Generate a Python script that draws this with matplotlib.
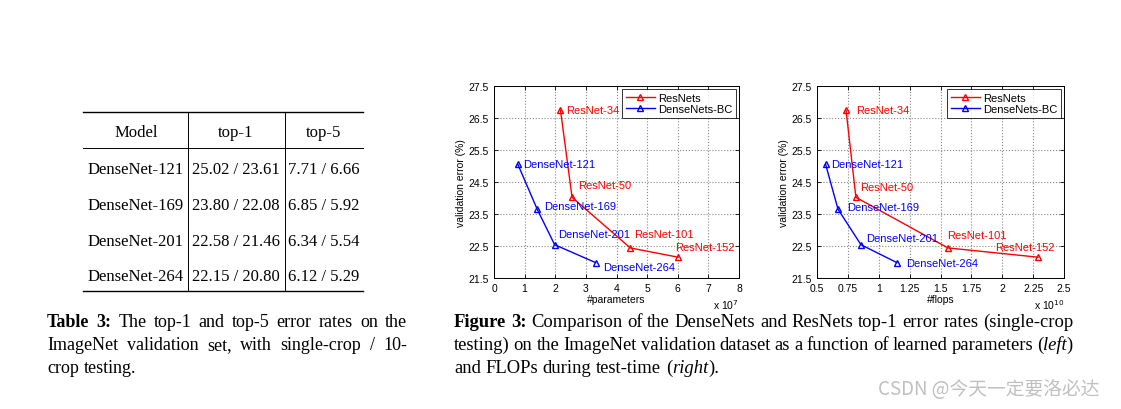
import matplotlib
matplotlib.use("Agg")
import matplotlib.pyplot as plt

# table 3 data
table_cols = ["Model", "top-1", "top-5"]
table_models = ["DenseNet-121", "DenseNet-169", "DenseNet-201", "DenseNet-264"]
table_top1 = ["25.02 / 23.61", "23.80 / 22.08", "22.58 / 21.46", "22.15 / 20.80"]
table_top5 = ["7.71 / 6.66", "6.85 / 5.92", "6.34 / 5.54", "6.12 / 5.29"]

# figure 3 data
resnet_names = ["ResNet-34", "ResNet-50", "ResNet-101", "ResNet-152"]
resnet_params = [2.17, 2.55, 4.45, 6.01]      # x 1e7
resnet_flops = [0.735, 0.815, 1.56, 2.29]     # x 1e10
resnet_err = [26.75, 24.02, 22.44, 22.15]

dense_names = ["DenseNet-121", "DenseNet-169", "DenseNet-201", "DenseNet-264"]
dense_params = [0.78, 1.41, 1.98, 3.32]
dense_flops = [0.57, 0.67, 0.856, 1.147]
dense_err = [25.05, 23.65, 22.54, 21.98]

W, H = 1121, 410
fig = plt.figure(figsize=(W / 100, H / 100), dpi=100)

serif = "Liberation Serif"
sans = "Liberation Sans"

def fx(px):
    return px / W

def fy(py):
    return 1 - py / H

# ---------------- table ----------------
tl, tr = 83, 363
for y, lw in [(113, 1.0), (149, 0.7), (292, 1.0)]:
    fig.add_artist(plt.Line2D([fx(tl), fx(tr)], [fy(y), fy(y)], color="black", lw=lw))
for x in [188, 285]:
    fig.add_artist(plt.Line2D([fx(x), fx(x)], [fy(113), fy(292)], color="black", lw=0.7))

col_centers = [136, 236, 324]
for c, name in zip(col_centers, table_cols):
    fig.text(fx(c), fy(133), name, ha="center", va="center", family=serif, fontsize=12)
row_y = [170, 206, 242, 277]
for i in range(len(table_models)):
    fig.text(fx(184), fy(row_y[i]), table_models[i], ha="right", va="center", family=serif, fontsize=12)
    fig.text(fx(192), fy(row_y[i]), table_top1[i], ha="left", va="center", family=serif, fontsize=12)
    fig.text(fx(288), fy(row_y[i]), table_top5[i], ha="left", va="center", family=serif, fontsize=12)

# ---------------- plots ----------------
def draw_panel(rect, rx, dx, xlim, xticks, xticklabels, xlabel, expo, res_off, den_off):
    ax = fig.add_axes(rect)
    ax.plot(rx, resnet_err, "-^", color="red", mfc="none", ms=5, lw=1, label="ResNets")
    ax.plot(dx, dense_err, "-^", color="blue", mfc="none", ms=5, lw=1, label="DenseNets-BC")
    for n, x, y, o in zip(resnet_names, rx, resnet_err, res_off):
        ax.annotate(n, (x, y), xytext=o, textcoords="offset pixels", color="red",
                    fontsize=8, family=sans, va="center", ha="left")
    for n, x, y, o in zip(dense_names, dx, dense_err, den_off):
        ax.annotate(n, (x, y), xytext=o, textcoords="offset pixels", color="blue",
                    fontsize=8, family=sans, va="center", ha="left")
    ax.set_xlim(xlim)
    ax.set_ylim(21.5, 27.5)
    ax.set_xticks(xticks)
    ax.set_xticklabels(xticklabels)
    ax.set_yticks([21.5, 22.5, 23.5, 24.5, 25.5, 26.5, 27.5])
    ax.set_yticklabels(["21.5", "22.5", "23.5", "24.5", "25.5", "26.5", "27.5"])
    ax.grid(True, linestyle=":", color="#888888", lw=0.8)
    ax.tick_params(direction="in", top=True, right=True, labelsize=7.5, length=3, width=0.6)
    for lab in ax.get_xticklabels() + ax.get_yticklabels():
        lab.set_family(sans)
    for s in ax.spines.values():
        s.set_linewidth(0.7)
    ax.set_xlabel(xlabel, fontsize=7.5, family=sans, labelpad=1)
    ax.set_ylabel("validation error (%)", fontsize=7.5, family=sans, labelpad=2)
    ax.text(1.0, -0.135, "x 10$^{%d}$" % expo, transform=ax.transAxes, fontsize=7.5,
            family=sans, ha="right", va="center")
    leg = ax.legend(loc="upper right", frameon=True, fancybox=False,
                    borderpad=0.3, handlelength=2.6, handletextpad=0.3, labelspacing=0.15,
                    borderaxespad=0.3, prop={"family": sans, "size": 8})
    leg.get_frame().set_edgecolor("black")
    leg.get_frame().set_linewidth(0.7)
    return ax

draw_panel([fx(494), fy(279), fx(739) - fx(494), fy(87) - fy(279)],
           resnet_params, dense_params, (0, 8), range(0, 9), [str(i) for i in range(9)],
           "#parameters", 7,
           [(6, 0), (6, 12), (4, 14), (-3, 10)],
           [(5, 0), (7, 3), (3, 11), (7, -4)])

fl_ticks = [0.5, 0.75, 1, 1.25, 1.5, 1.75, 2, 2.25, 2.5]
draw_panel([fx(817), fy(279), fx(1064) - fx(817), fy(87) - fy(279)],
           resnet_flops, dense_flops, (0.5, 2.5), fl_ticks,
           ["0.5", "0.75", "1", "1.25", "1.5", "1.75", "2", "2.25", "2.5"],
           "#flops", 10,
           [(10, 0), (4, 10), (-1, 13), (-43, 10)],
           [(5, 0), (9, 2), (5, 7), (9, 0)])

# ---------------- captions ----------------
fig.canvas.draw()
renderer = fig.canvas.get_renderer()

def caption_line(x, y, parts, size, x_end=None):
    # parts: (text, weight, style); words split on spaces, joined fragments stay together
    words = [[]]
    for txt, weight, style in parts:
        pieces = txt.split(" ")
        for k, p in enumerate(pieces):
            if k > 0:
                words.append([])
            if p:
                words[-1].append((p, weight, style))
    words = [w for w in words if w]
    made = []
    total = 0
    for w in words:
        frags = []
        for p, weight, style in w:
            t = fig.text(0, fy(y), p, family=serif, fontsize=size, weight=weight,
                         style=style, ha="left", va="baseline")
            wd = t.get_window_extent(renderer).width
            frags.append((t, wd))
            total += wd
        made.append(frags)
    if x_end is None:
        gap = size * 0.25 * 100 / 72
    else:
        gap = (x_end - x - total) / (len(made) - 1)
    for frags in made:
        for t, wd in frags:
            t.set_x(x / W)
            x += wd
        x += gap

N, B, I = "normal", "bold", "italic"
caption_line(47, 327, [("Table 3: ", B, N), ("The top-1 and top-5 error rates on the", N, N)], 13, 407)
caption_line(47, 350, [("ImageNet validation set, with single-crop / 10-", N, N)], 13, 407)
caption_line(47, 373, [("crop testing.", N, N)], 13)

caption_line(454, 327, [("Figure 3: ", B, N),
                        ("Comparison of the DenseNets and ResNets top-1 error rates (single-crop", N, N)],
             13.4, 1073)
caption_line(454, 350, [("testing) on the ImageNet validation dataset as a function of learned parameters (", N, N),
                        ("left", N, I), (")", N, N)], 13.4, 1073)
caption_line(454, 373, [("and FLOPs during test-time (", N, N), ("right", N, I), (").", N, N)], 13.4)

fig.text(fx(1100), fy(390), "CSDN @今天一定要洛必达", ha="right", va="center", fontsize=13.5,
         color="#c0c0c0", family=["Noto Sans CJK SC", "DejaVu Sans"])

fig.savefig("out.png", dpi=100)
